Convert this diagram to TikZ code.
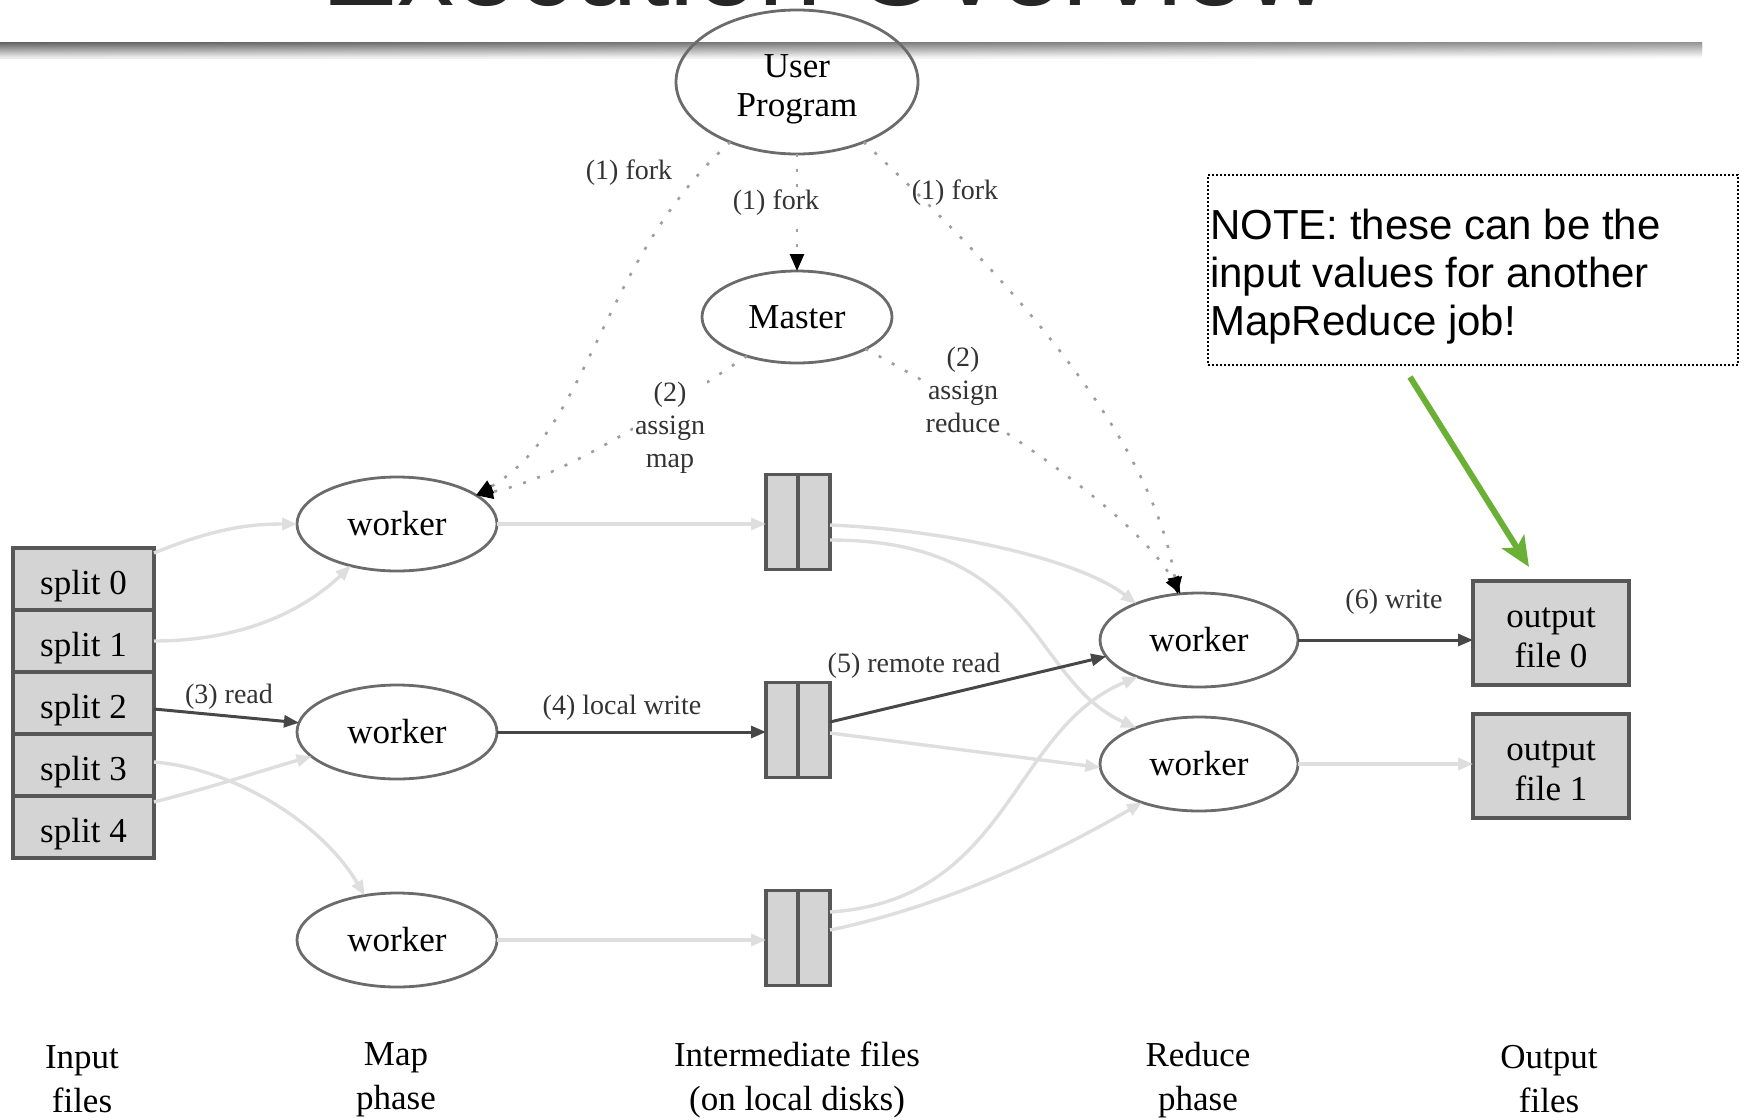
\documentclass[tikz,border=0pt]{standalone}
\usepackage{fontspec}
\setmainfont{Liberation Serif}
\newfontfamily\notefont{Liberation Sans}
\usetikzlibrary{arrows.meta,shapes.geometric,calc}
\definecolor{notegreen}{RGB}{106,176,52}

\begin{document}
\begin{tikzpicture}[x=1pt,y=-1pt,
  every node/.style={inner sep=0pt, outer sep=0pt},
  proc/.style={ellipse, draw=black!58, line width=2.8pt,
    minimum width=200pt, minimum height=94pt,
    font=\fontsize{35}{39}\selectfont},
  filebox/.style={rectangle, draw=black!66, line width=3.2pt, fill=black!17,
    font=\fontsize{35}{40}\selectfont, align=center},
  splitbox/.style={filebox, minimum width=141pt, minimum height=62pt,
    text height=30pt, text depth=0pt},
  boxtext/.style={font=\fontsize{35}{40}\selectfont, align=center},
  lbl/.style={font=\fontsize{28}{33}\selectfont, text=black!80, align=center},
  phaselbl/.style={font=\fontsize{35}{44}\selectfont, align=center},
  darkedge/.style={draw=black!72, line width=3pt,
    -{Triangle[length=15pt,width=12pt]}},
  lightedge/.style={draw=black!13, line width=3.4pt,
    -{Triangle[length=15pt,width=12pt]}},
  ctrledge/.style={draw=black!38, line width=2.6pt, dash pattern=on 3pt off 12pt,
    -{Triangle[length=17pt,width=14pt,color=black,fill=black]}},
]
\useasboundingbox (0,0) rectangle (1744,1119);
\clip (0,0) rectangle (1744,1119);

% heading, mostly above the page edge
\node[font=\notefont\fontsize{114}{120}\selectfont, text=black!85, anchor=base]
  (title) at (825,5) {Execution Overview};

% shaded rule under the heading
\foreach \i in {0,...,15} {
  \pgfmathsetmacro{\lc}{62-54*\i/15}
  \pgfmathsetmacro{\rc}{42-40*\i/15}
  \shade[left color=black!\lc, right color=black!\rc]
    (0,42+\i) rectangle (1702,43.1+\i);
}

% processes
\node[proc, minimum width=242pt, minimum height=144pt] (user) at (797,82) {};
\node[font=\fontsize{35}{39}\selectfont, align=center] (usertext) at (797,89) {User\\Program};
\node[proc, minimum width=190pt, minimum height=92pt] (master) at (797,317) {Master};

\node[proc] (w1) at (397,524) {worker};
\node[proc] (w2) at (397,732) {worker};
\node[proc] (w3) at (397,940) {worker};

\node[proc, minimum width=198pt] (r1) at (1199,640) {worker};
\node[proc, minimum width=198pt] (r2) at (1199,764) {worker};

% input splits
\node[splitbox] (s0) at (83.5,579) {split 0};
\node[splitbox] (s1) at (83.5,641) {split 1};
\node[splitbox] (s2) at (83.5,703) {split 2};
\node[splitbox] (s3) at (83.5,765) {split 3};
\node[splitbox] (s4) at (83.5,827) {split 4};

% intermediate files, two partitions each
\foreach \n/\y in {ib1/522, ib2/730, ib3/938} {
  \node[filebox, minimum width=64pt, minimum height=95pt] (\n) at (798,\y) {};
  \draw[black!66, line width=3.2pt] (\n.north) -- (\n.south);
}

% output files
\node[filebox, minimum width=156pt, minimum height=104pt] (out0) at (1551,633) {};
\node[boxtext] (out0text) at (1551,638) {output\\file 0};
\node[filebox, minimum width=156pt, minimum height=104pt] (out1) at (1551,766) {};
\node[boxtext] (out1text) at (1551,771) {output\\file 1};

% control flow (fork / assign)
\draw[ctrledge] (user.south) -- (master.north);
\draw[ctrledge] (user.222) .. controls (600,260) and (590,430) .. (w1.20);
\draw[ctrledge] (master.218) .. controls (650,420) and (560,478) .. (w1.20);
\draw[ctrledge] (user.318) .. controls (1000,270) and (1150,430) .. (r1.115);
\draw[ctrledge] (master.335) .. controls (1000,420) and (1140,520) .. (r1.112);

% data flow: splits to map workers
\draw[lightedge] ([yshift=26pt]s0.east) .. controls (215,528) and (250,524) .. (w1.west);
\draw[lightedge] (s1.east) .. controls (250,641) and (310,605) .. (w1.222);
\draw[darkedge] ([yshift=-6pt]s2.east) -- (w2);
\draw[lightedge] ([yshift=3pt]s3.east) .. controls (230,768) and (320,820) .. (w3.126);
\draw[lightedge] ([yshift=25pt]s4.east) .. controls (220,785) and (270,768) .. (w2.196);

% map workers to local files
\draw[lightedge] (w1.east) -- (w1.east -| ib1.west);
\draw[darkedge] (w2.east) -- (w2.east -| ib2.west);
\draw[lightedge] (w3.east) -- (w3.east -| ib3.west);

% local files to reduce workers
\draw[lightedge] ([yshift=-3pt]ib1.east) .. controls (950,530) and (1080,560) .. (r1.150);
\draw[lightedge] ([yshift=-18pt]ib1.east) .. controls (1040,540) and (1030,680) .. (r2.150);
\draw[lightedge] ([yshift=-3pt]ib2.east) -- (r2.182);
\draw[lightedge] ([yshift=26pt]ib3.east) .. controls (1010,900) and (1010,730) .. (r1.211);
\draw[lightedge] ([yshift=8pt]ib3.east) .. controls (950,905) and (1060,850) .. (r2.214);
\draw[darkedge] ([yshift=8pt]ib2.east) -- (r1.190);

% reduce workers to output files
\draw[darkedge] (r1.east) -- (r1.east -| out0.west);
\draw[lightedge] (r2.east) -- (r2.east -| out1.west);

% edge labels
\node[lbl] (fork1) at (629,173) {(1) fork};
\node[lbl, fill=white, inner sep=2pt] (fork2) at (776,203) {(1) fork};
\node[lbl] (fork3) at (955,193) {(1) fork};
\node[lbl, fill=white, inner sep=2pt] (assignmap) at (670,428) {(2)\\assign\\map};
\node[lbl, fill=white, inner sep=2pt] (assignred) at (963,390) {(2)\\assign\\reduce};
\node[lbl] (readlbl) at (229,697) {(3) read};
\node[lbl] (writelbl) at (622,708) {(4) local write};
\node[lbl] (remotelbl) at (914,666) {(5) remote read};
\node[lbl] (outlbl) at (1394,602) {(6) write};

% phase captions
\node[phaselbl] (capin) at (82,1079) {Input\\files};
\node[phaselbl] (capmap) at (396,1080) {Map\\phase};
\node[phaselbl] (capmid) at (797,1080) {Intermediate files\\(on local disks)};
\node[phaselbl] (capred) at (1198,1080) {Reduce\\phase};
\node[phaselbl] (capout) at (1549,1079) {Output\\files};

% note
\node[draw=black, line width=1.8pt, dash pattern=on 2pt off 2pt,
  minimum width=530pt, minimum height=190pt] (note) at (1473,270) {};
\node[font=\notefont\fontsize{42}{48}\selectfont, align=left, anchor=north west]
  (notetext) at (1210,209) {NOTE: these can be the\\input values for another\\MapReduce job!};
\draw[notegreen, line width=6pt, -{Stealth[length=30pt,width=26pt,inset=7pt]}]
  ([xshift=202pt,yshift=-12pt]note.south west) -- ([xshift=-22pt,yshift=14pt]out0.north);
\end{tikzpicture}
\end{document}
